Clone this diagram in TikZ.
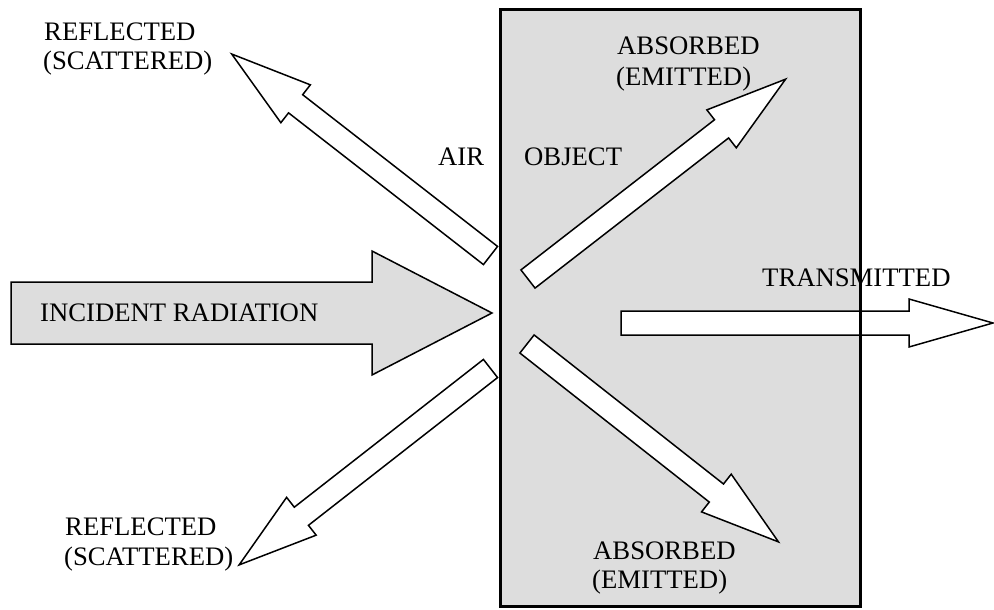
\documentclass[tikz,border=0pt]{standalone}
\usepackage{fontspec}
\setmainfont{Liberation Serif}
\definecolor{objgray}{HTML}{DDDDDD}
\tikzset{
  lbl/.style={anchor=base west, inner sep=0pt, font=\fontsize{26.7}{30}\selectfont},
  arrowshape/.style={draw=black, line width=1.5pt, line join=miter},
  objbox/.style={draw=black, line width=3pt},
}
% #1 tail centre, #2 angle, #3 length, #4 shaft width, #5 head width, #6 head length, #7 fill
\newcommand{\fatarrow}[7]{%
  \begin{scope}[shift={#1}, rotate=#2]
    \draw[arrowshape, fill=#7] (0,{-#4/2}) -- ({#3-#6},{-#4/2}) -- ({#3-#6},{-#5/2})
      -- (#3,0) -- ({#3-#6},{#5/2}) -- ({#3-#6},{#4/2}) -- (0,{#4/2}) -- cycle;
  \end{scope}}
\begin{document}
\begin{tikzpicture}[x=1pt,y=-1pt]
\useasboundingbox (0,0) rectangle (994,610);
% object body
\fill[objgray] (500,10) rectangle (860,606);
% arrows
\fatarrow{(11,313)}{0}{481}{62}{124}{120}{objgray}
\fatarrow{(621,323)}{0}{372}{24}{48}{84}{white}
\fatarrow{(490.5,255.5)}{142.1}{328}{23}{48}{81}{white}
\fatarrow{(528,279)}{37.8}{326}{23}{48}{81}{white}
\fatarrow{(490.5,368.5)}{218}{319}{23}{48}{79}{white}
\fatarrow{(527,344)}{-38.2}{320}{23}{48}{79}{white}
% object border
\draw[objbox] (500,10) rectangle (860,606);
% labels
\node[lbl] (refl1a) at (44,41) {REFLECTED};
\node[lbl] (refl1b) at (43,70) {(SCATTERED)};
\node[lbl] (air) at (438,165) {AIR};
\node[lbl] (obj) at (524,165) {OBJECT};
\node[lbl] (abs1a) at (617,55) {ABSORBED};
\node[lbl] (abs1b) at (616,85) {(EMITTED)};
\node[lbl] (trans) at (762,286) {TRANSMITTED};
\node[lbl] (inc) at (40,321) {INCIDENT RADIATION};
\node[lbl] (refl2a) at (65,535) {REFLECTED};
\node[lbl] (refl2b) at (64,565) {(SCATTERED)};
\node[lbl] (abs2a) at (593,559) {ABSORBED};
\node[lbl] (abs2b) at (592,588) {(EMITTED)};
\end{tikzpicture}
\end{document}
